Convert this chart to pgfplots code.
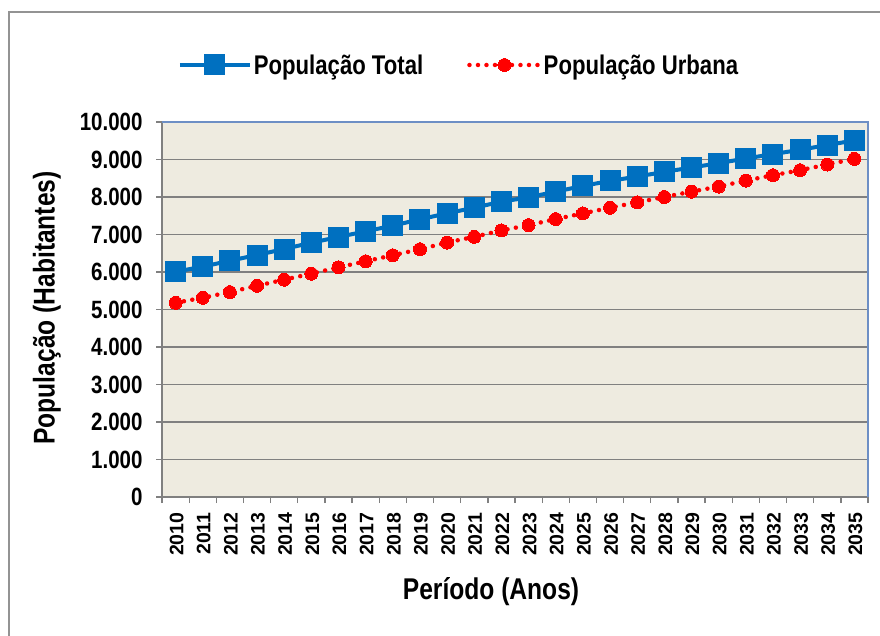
\documentclass[border=0pt]{standalone}
\usepackage{fontspec}
\setmainfont{Liberation Sans}
\newfontfamily\narrow{Liberation Sans}[FakeStretch=0.82]
\usepackage{pgfplots}
\pgfplotsset{compat=1.18}
\definecolor{totc}{HTML}{0070C0}
\definecolor{urbc}{HTML}{FF0000}
\definecolor{bgc}{HTML}{EEEBE0}
\definecolor{gridc}{HTML}{808080}
\definecolor{borderc}{HTML}{6D8FC5}
\pgfplotstableread{
x total urbana
0 6008 5179
1 6141 5313
2 6301 5464
3 6453 5634
4 6613 5795
5 6781 5955
6 6933 6125
7 7085 6286
8 7235 6446
9 7405 6607
10 7565 6786
11 7715 6938
12 7875 7107
13 7991 7250
14 8143 7411
15 8295 7563
16 8429 7714
17 8545 7857
18 8670 8000
19 8786 8143
20 8902 8277
21 9027 8438
22 9143 8580
23 9259 8714
24 9384 8866
25 9509 9018
}\datatable
\begin{document}
\begin{tikzpicture}
\clip (0pt,0pt) rectangle (880pt,635pt);
\fill[white] (0pt,0pt) rectangle (880pt,635pt);
\draw[gray!85, line width=1.5pt] (9pt,-20pt) |- (900pt,623pt);
\begin{axis}[
  at={(162pt,138pt)}, anchor=south west,
  width=706pt, height=375pt, scale only axis,
  xmin=-0.5, xmax=25.5, ymin=0, ymax=10000,
  axis background/.style={fill=bgc},
  axis x line*=bottom, axis y line*=left,
  axis line style={draw=gridc, line width=1.5pt, -},
  ytick={0,1000,...,10000},
  ymajorgrids, grid style={draw=gridc, line width=1.4pt},
  scaled y ticks=false,
  /pgf/number format/.cd, 1000 sep={.}, assume math mode=true, /pgfplots/.cd,
  yticklabel style={font=\narrow\bfseries\fontsize{25}{25}\selectfont, xshift=-10pt},
  xtick={0,...,25},
  xticklabels={2010,2011,2012,2013,2014,2015,2016,2017,2018,2019,2020,2021,2022,2023,2024,2025,2026,2027,2028,2029,2030,2031,2032,2033,2034,2035},
  xticklabel style={rotate=90, anchor=east, font=\bfseries\fontsize{19.5}{19.5}\selectfont, yshift=-1pt, xshift=-6pt},
  major x tick style={draw=none},
  minor xtick={-0.5,0.5,...,25.5},
  minor tick length=6pt,
  minor x tick style={draw=gridc, line width=1.3pt},
  major tick length=6pt,
  major y tick style={draw=gridc, line width=1.3pt},
  tick align=outside,
  xlabel={Período (Anos)},
  xlabel style={at={(rel axis cs:0.466,-0.253)}, anchor=center, font=\narrow\bfseries\fontsize{30}{30}\selectfont},
  ylabel={População (Habitantes)},
  ylabel style={at={(rel axis cs:-0.163,0.504)}, anchor=center, rotate=0, font=\narrow\bfseries\fontsize{30}{30}\selectfont},
  legend style={at={(0.4207,1.152)}, anchor=center, draw=none, fill=none,
    font=\narrow\bfseries\fontsize{27}{27}\selectfont,
    /tikz/every even column/.append style={column sep=42pt}},
  legend columns=2,
  legend image code/.code={\draw[mark repeat=2,mark phase=2,#1] plot coordinates {(0pt,0pt) (35pt,0pt) (70pt,0pt)};},
  clip=false,
]
\addplot[totc, line width=4pt, mark=square*, mark size=10pt, mark options={solid, fill=totc, draw=totc, line width=0pt}] table[x=x, y=total] {\datatable};
\addlegendentry{População Total}
\addplot[urbc, line width=4.5pt, line cap=round, dash pattern=on 0pt off 8.5pt, mark=*, mark size=6.5pt, mark options={solid, fill=urbc, draw=urbc, line width=0pt}] table[x=x, y=urbana] {\datatable};
\addlegendentry{População Urbana}
\draw[borderc, line width=1.5pt] (rel axis cs:0,1) -- (rel axis cs:1,1) -- (rel axis cs:1,0);
\end{axis}
\end{tikzpicture}
\end{document}
